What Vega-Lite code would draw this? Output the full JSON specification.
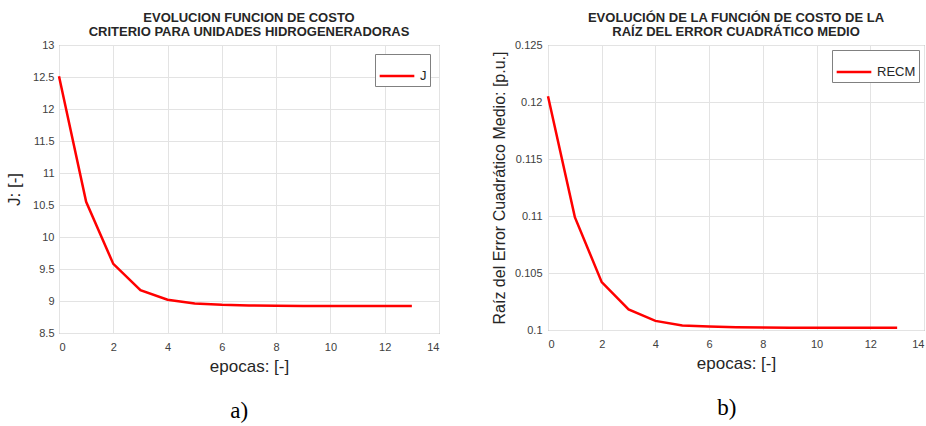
{
  "$schema": "https://vega.github.io/schema/vega-lite/v6.json",
  "background": "white",
  "padding": {"left": 5, "top": 11, "right": 0, "bottom": 0},
  "spacing": 50,
  "resolve": {"scale": {"color": "independent"}, "legend": {"color": "independent"}},
  "config": {
    "font": "Liberation Sans",
    "view": {"stroke": "#808080", "strokeWidth": 1},
    "axis": {
      "grid": true, "gridColor": "#e3e3e3", "domain": false, "ticks": false,
      "labelColor": "#404040", "labelFontSize": 11, "labelFont": "Liberation Sans",
      "titleFont": "Liberation Sans", "titleFontWeight": "normal", "titleColor": "#262626", "titleFontSize": 17
    },
    "legend": {
      "orient": "top-right", "title": null, "strokeColor": "#808080", "fillColor": "white",
      "padding": 3, "symbolType": "stroke", "symbolStrokeWidth": 2.5, "symbolSize": 1200,
      "labelFontSize": 13, "labelColor": "#262626", "labelFont": "Liberation Sans", "offset": 9
    }
  },
  "hconcat": [
    {
      "title": {"text": "a)", "orient": "bottom", "font": "Liberation Serif", "fontSize": 23, "fontWeight": "normal", "color": "#000000", "offset": 25, "anchor": "middle", "dx": 17},
      "resolve": {"scale": {"color": "independent"}, "legend": {"color": "independent"}},
      "vconcat": [
        {
          "width": 380,
          "height": 288,
          "title": {"text": ["EVOLUCION FUNCION DE COSTO", "CRITERIO PARA UNIDADES HIDROGENERADORAS"], "font": "Liberation Sans", "fontSize": 13, "fontWeight": "bold", "color": "#262626", "lineHeight": 14, "anchor": "middle", "frame": "group", "offset": 0},
          "data": {"values": [
            {"epoca": 0, "J": 12.51, "serie": "J"},
            {"epoca": 1, "J": 10.55, "serie": "J"},
            {"epoca": 2, "J": 9.58, "serie": "J"},
            {"epoca": 3, "J": 9.17, "serie": "J"},
            {"epoca": 4, "J": 9.02, "serie": "J"},
            {"epoca": 5, "J": 8.96, "serie": "J"},
            {"epoca": 6, "J": 8.94, "serie": "J"},
            {"epoca": 7, "J": 8.93, "serie": "J"},
            {"epoca": 8, "J": 8.925, "serie": "J"},
            {"epoca": 9, "J": 8.922, "serie": "J"},
            {"epoca": 10, "J": 8.92, "serie": "J"},
            {"epoca": 11, "J": 8.92, "serie": "J"},
            {"epoca": 12, "J": 8.92, "serie": "J"},
            {"epoca": 13, "J": 8.92, "serie": "J"}
          ]},
          "mark": {"type": "line", "strokeWidth": 2.5},
          "encoding": {
            "x": {"field": "epoca", "type": "quantitative", "scale": {"domain": [0, 14], "nice": false},
                  "axis": {"values": [0, 2, 4, 6, 8, 10, 12, 14], "title": "epocas: [-]", "labelPadding": 8, "titlePadding": 6}},
            "y": {"field": "J", "type": "quantitative", "scale": {"domain": [8.5, 13], "nice": false, "zero": false},
                  "axis": {"values": [8.5, 9, 9.5, 10, 10.5, 11, 11.5, 12, 12.5, 13], "format": "~g", "title": "J: [-]", "labelPadding": 5, "titlePadding": 9}},
            "color": {"field": "serie", "type": "nominal", "scale": {"domain": ["J"], "range": ["#ff0000"]}, "legend": {"orient": "top-right", "offset": 9}}
          }
        }
      ]
    },
    {
      "title": {"text": "b)", "orient": "bottom", "font": "Liberation Serif", "fontSize": 23, "fontWeight": "normal", "color": "#000000", "offset": 25, "anchor": "middle", "dx": 19},
      "resolve": {"scale": {"color": "independent"}, "legend": {"color": "independent"}},
      "vconcat": [
        {
          "width": 376,
          "height": 285,
          "title": {"text": ["EVOLUCIÓN DE LA FUNCIÓN DE COSTO DE LA", "RAÍZ DEL ERROR CUADRÁTICO MEDIO"], "font": "Liberation Sans", "fontSize": 13, "fontWeight": "bold", "color": "#262626", "lineHeight": 14, "anchor": "middle", "frame": "group", "offset": 0},
          "data": {"values": [
            {"epoca": 0, "RECM": 0.1205, "serie": "RECM"},
            {"epoca": 1, "RECM": 0.1099, "serie": "RECM"},
            {"epoca": 2, "RECM": 0.1042, "serie": "RECM"},
            {"epoca": 3, "RECM": 0.1018, "serie": "RECM"},
            {"epoca": 4, "RECM": 0.1008, "serie": "RECM"},
            {"epoca": 5, "RECM": 0.1004, "serie": "RECM"},
            {"epoca": 6, "RECM": 0.1003, "serie": "RECM"},
            {"epoca": 7, "RECM": 0.10025, "serie": "RECM"},
            {"epoca": 8, "RECM": 0.10022, "serie": "RECM"},
            {"epoca": 9, "RECM": 0.1002, "serie": "RECM"},
            {"epoca": 10, "RECM": 0.1002, "serie": "RECM"},
            {"epoca": 11, "RECM": 0.1002, "serie": "RECM"},
            {"epoca": 12, "RECM": 0.1002, "serie": "RECM"},
            {"epoca": 13, "RECM": 0.1002, "serie": "RECM"}
          ]},
          "mark": {"type": "line", "strokeWidth": 2.5},
          "encoding": {
            "x": {"field": "epoca", "type": "quantitative", "scale": {"domain": [0, 14], "nice": false},
                  "axis": {"values": [0, 2, 4, 6, 8, 10, 12, 14], "title": "epocas: [-]", "labelPadding": 8, "titlePadding": 6}},
            "y": {"field": "RECM", "type": "quantitative", "scale": {"domain": [0.1, 0.125], "nice": false, "zero": false},
                  "axis": {"values": [0.1, 0.105, 0.11, 0.115, 0.12, 0.125], "format": "~g", "title": "Raíz del Error Cuadrático Medio: [p.u.]", "titleFontSize": 16, "labelPadding": 6, "titlePadding": 7}},
            "color": {"field": "serie", "type": "nominal", "scale": {"domain": ["RECM"], "range": ["#ff0000"]}, "legend": {"orient": "top-right", "offset": 5}}
          }
        }
      ]
    }
  ]
}
